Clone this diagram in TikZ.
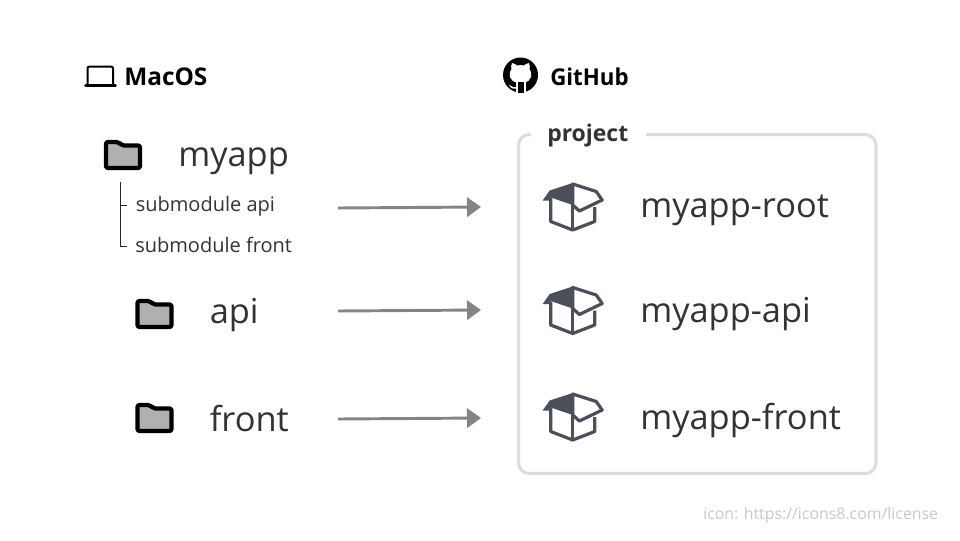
\documentclass[tikz,border=0pt]{standalone}
\usepackage{fontspec}
\setmainfont{Open Sans}
\usetikzlibrary{arrows.meta}
\definecolor{inkgray}{HTML}{333333}
\definecolor{boxslate}{HTML}{4A4F5A}
\definecolor{framegray}{HTML}{DDDDDD}
\definecolor{arrowgray}{HTML}{848484}
\definecolor{foldergray}{HTML}{B0B0B0}
\definecolor{creditgray}{HTML}{C8C8C8}
\tikzset{
  x=0.75pt,y=-0.75pt,
  bigtext/.style={font=\fontsize{25.8pt}{30pt}\selectfont,text=inkgray,anchor=base west,inner sep=0pt},
  subtext/.style={font=\fontsize{15pt}{18pt}\selectfont,text=inkgray,anchor=base west,inner sep=0pt},
  headtext/.style={font=\fontsize{18.3pt}{21pt}\selectfont\bfseries,text=black,anchor=base west,inner sep=0pt},
  flow/.style={draw=arrowgray,line width=2.2pt,-{Triangle[length=10.5pt,width=14.5pt]}},
  folder/.pic={
    \draw[line width=3.2pt,line join=round,fill=foldergray,rounded corners=1.5pt]
      (-17,-13) -- (-4.5,-13) -- (-1,-9.5) -- (17,-9.5) -- (17,13) -- (-17,13) -- cycle;
  },
  crate/.pic={
    % dark left lid
    \fill[boxslate] (0,-24) -- (-23,-16.5) -- (-30,-6.5) -- (-22,-6.5) -- (-22,-9.5) -- (0,-2) -- cycle;
    \draw[boxslate,line width=2.4pt,line join=round]
      (-22,-9) -- (-22,14.5) -- (0,23) -- (22,14.5) -- (22,0);
    \draw[boxslate,line width=2.4pt,line join=round]
      (0,-2) -- (0,23);
    \draw[boxslate,line width=2.4pt,line join=round]
      (0,-23) -- (23.5,-15.5) -- (29.5,-7) -- (6.7,4) -- (0,-2) -- cycle;
  },
}
\begin{document}
\begin{tikzpicture}
\useasboundingbox (0,0) rectangle (960,540);

% column headings
\draw[black,line width=1.5pt,rounded corners=1.5pt] (87.5,84) -- (87.5,66.5) -- (113,66.5) -- (113,84);
\draw[black,line width=1.9pt,line cap=round] (85.5,85.5) -- (115.5,85.5);
\node[headtext] (macos) at (124,85) {MacOS};

% GitHub mark
\fill[black] (520.5,75) circle (17.5);
\fill[white] (512,63) .. controls (514.5,63.5) and (516,64.5) .. (517,65.5)
  .. controls (519,65) and (522,65) .. (524,65.5)
  .. controls (525,64.5) and (526.5,63.5) .. (529,63)
  .. controls (530,65.5) and (530,67.5) .. (529.5,69)
  .. controls (533,73) and (532,81.5) .. (524,82.5)
  -- (517,82.5)
  .. controls (509,81.5) and (508,73) .. (511.5,69)
  .. controls (511,67.5) and (511,65.5) .. (512,63) -- cycle;
\fill[white] (515.5,82) rectangle (526,93);
\fill[black] (517.5,82) rectangle (524,93);
\fill[white] (508.5,84.5) .. controls (510.5,85) and (512.5,88) .. (516,87) -- (516,88.5) .. controls (512,89.5) and (510,87) .. (508.5,84.5) -- cycle;
\node[headtext,font=\fontsize{17.4pt}{21pt}\selectfont\bfseries,xscale=0.96,anchor=base west] (github) at (550,85) {GitHub};

% project frame
\draw[framegray,line width=2.3pt,rounded corners=8pt] (518.5,134.5) rectangle (876,473.5);
\node[fill=white,minimum width=86.25pt,minimum height=18pt,inner sep=0pt] (projectgap) at (588.5,134) {};
\node[font=\fontsize{17.2pt}{20pt}\selectfont\bfseries,text=inkgray,anchor=base west,inner sep=0pt] (project) at (547,141) {project};

% local folders
\pic at (123,155) {folder};
\pic at (154.5,314) {folder};
\pic at (154.5,418) {folder};
\node[bigtext] (myapp) at (178,166) {myapp};
\node[bigtext] (api) at (209.5,323) {api};
\node[bigtext] (front) at (209.5,431) {front};

% submodule tree
\node[subtext] (subapi) at (135.5,211) {submodule api};
\node[subtext] (subfront) at (135,252.5) {submodule front};
\coordinate (treetop) at (120.7,182);
\coordinate (treemid) at (120.7,205);
\coordinate (treeend) at (120.7,246);
\coordinate (tickmid) at (127,205);
\coordinate (tickend) at (127,246);
\draw[black!85,line width=0.7pt] (treetop) -- (treeend) -- (tickend);
\draw[black!85,line width=0.7pt] (treemid) -- (tickmid);

% remote repositories
\pic at (572.7,207) {crate};
\pic at (572.7,310.5) {crate};
\pic at (572.7,417) {crate};
\node[bigtext] (root) at (640,217) {myapp-root};
\node[bigtext] (rapi) at (640,322) {myapp-api};
\node[bigtext] (rfront) at (640,429) {myapp-front};

% mirroring arrows
\coordinate (a1s) at (338,208);
\coordinate (a1e) at (481,207);
\coordinate (a2s) at (338,311);
\coordinate (a2e) at (481,310);
\coordinate (a3s) at (338,419);
\coordinate (a3e) at (481,418);
\draw[flow] (a1s) -- (a1e);
\draw[flow] (a2s) -- (a2e);
\draw[flow] (a3s) -- (a3e);

% attribution
\node[font=\fontsize{11.9pt}{14pt}\selectfont,text=creditgray,anchor=base west,inner sep=0pt] (credit) at (703,519.5) {icon: https://icons8.com/license};
\end{tikzpicture}
\end{document}
